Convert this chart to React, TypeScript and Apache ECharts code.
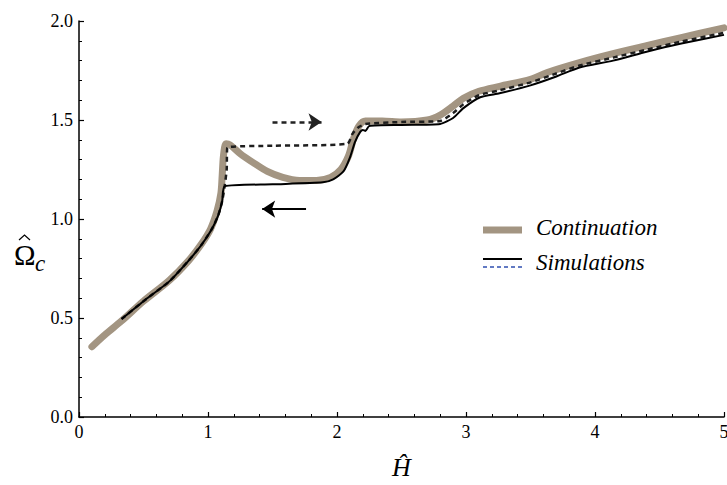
import React, { useEffect, useRef } from "react";
import * as echarts from "echarts";

// Continuation branch of the critical frequency vs. dimensionless field
const continuation: [number, number][] = [
  [0.1, 0.355], [0.2, 0.415], [0.33, 0.485], [0.5, 0.585], [0.7, 0.69],
  [0.85, 0.79], [0.95, 0.875], [1.02, 0.95], [1.07, 1.04], [1.1, 1.13],
  [1.11, 1.22], [1.12, 1.32], [1.14, 1.38], [1.17, 1.375], [1.25, 1.33],
  [1.35, 1.285], [1.46, 1.24], [1.58, 1.21], [1.71, 1.195], [1.84, 1.195],
  [1.95, 1.21], [2.03, 1.25], [2.09, 1.32], [2.13, 1.41], [2.17, 1.47],
  [2.22, 1.495], [2.35, 1.495], [2.5, 1.49], [2.7, 1.5], [2.8, 1.525],
  [2.9, 1.57], [2.98, 1.61], [3.1, 1.645], [3.26, 1.67], [3.5, 1.705],
  [3.63, 1.74], [3.88, 1.79], [4.14, 1.835], [4.4, 1.875], [4.66, 1.915],
  [5.0, 1.965],
];

// Simulation, decreasing field sweep (solid)
const simDown: [number, number][] = [
  [0.33, 0.495], [0.5, 0.585], [0.7, 0.685], [0.85, 0.79], [0.95, 0.87],
  [1.03, 0.95], [1.08, 1.02], [1.11, 1.09], [1.13, 1.165], [1.5, 1.175],
  [1.89, 1.185], [1.97, 1.2], [2.05, 1.24], [2.1, 1.31], [2.14, 1.39],
  [2.18, 1.44], [2.2, 1.45], [2.22, 1.445], [2.25, 1.47], [2.5, 1.475],
  [2.8, 1.48], [2.9, 1.51], [2.98, 1.56], [3.11, 1.615], [3.26, 1.635],
  [3.5, 1.675], [3.7, 1.72], [3.88, 1.765], [4.14, 1.8], [4.4, 1.845],
  [4.66, 1.885], [5.0, 1.93],
];

// Simulation, increasing field sweep (dashed)
const simUp: [number, number][] = [
  [0.33, 0.495], [0.5, 0.585], [0.7, 0.685], [0.85, 0.79], [0.95, 0.87],
  [1.03, 0.95], [1.08, 1.02], [1.11, 1.09], [1.13, 1.17], [1.145, 1.25],
  [1.15, 1.36], [1.5, 1.37], [2.08, 1.38], [2.12, 1.43], [2.16, 1.46],
  [2.22, 1.48], [2.5, 1.49], [2.8, 1.495], [2.9, 1.535], [2.98, 1.58],
  [3.1, 1.625], [3.26, 1.65], [3.5, 1.69], [3.7, 1.735], [3.88, 1.775],
  [4.14, 1.815], [4.4, 1.855], [4.66, 1.895], [5.0, 1.94],
];

// Sweep direction arrows: [x start, x end, y]
const arrowUp: [number, number, number] = [1.5, 1.88, 1.49];
const arrowDown: [number, number, number] = [1.76, 1.42, 1.05];

const SERIF = "Liberation Serif";
const BROWN = "#a39582";

export default function App() {
  const ref = useRef<HTMLDivElement>(null);

  useEffect(() => {
    if (!ref.current) return;
    const chart = echarts.init(ref.current, null, { renderer: "svg" });

    const axisCommon = {
      axisLine: { show: true, onZero: false, lineStyle: { color: "#000", width: 1.5 } },
      axisTick: { show: true, inside: true, length: 5, lineStyle: { color: "#000", width: 1.2 } },
      minorTick: { show: true, splitNumber: 5, length: 3, lineStyle: { color: "#000", width: 1 } },
      splitLine: { show: false },
      minorSplitLine: { show: false },
      axisLabel: { color: "#000", fontFamily: SERIF, fontSize: 18 },
    };

    chart.setOption({
      animation: false,
      backgroundColor: "#fff",
      textStyle: { fontFamily: SERIF },
      grid: {
        left: 79,
        right: 3,
        top: 21,
        bottom: 68,
        containLabel: false,
        outerBoundsMode: "none",
      },
      xAxis: {
        type: "value",
        min: 0,
        max: 5,
        interval: 1,
        ...axisCommon,
        axisLabel: { ...axisCommon.axisLabel, margin: 6 },
        name: "Ĥ",
        nameLocation: "middle",
        nameGap: 37,
        nameTextStyle: { fontFamily: SERIF, fontStyle: "italic", fontSize: 26, color: "#000" },
      },
      yAxis: {
        type: "value",
        min: 0,
        max: 2,
        interval: 0.5,
        ...axisCommon,
        axisLabel: {
          ...axisCommon.axisLabel,
          margin: 6,
          formatter: (v: number) => v.toFixed(1),
        },
      },
      graphic: [
        {
          type: "text",
          left: 14,
          top: 240,
          style: { text: "Ω", fontFamily: SERIF, fontSize: 29, fill: "#000" },
        },
        {
          type: "polyline",
          shape: { points: [[19, 240], [24.5, 235], [30, 240]] },
          style: { stroke: "#000", lineWidth: 1.2, fill: "none" },
        },
        {
          type: "text",
          left: 35,
          top: 252,
          style: { text: "c", fontFamily: SERIF, fontStyle: "italic", fontSize: 23, fill: "#000" },
        },
        {
          type: "line",
          shape: { x1: 483, y1: 230, x2: 522, y2: 230 },
          style: { stroke: BROWN, lineWidth: 7 },
        },
        {
          type: "text",
          left: 536,
          top: 216,
          style: { text: "Continuation", fontFamily: SERIF, fontStyle: "italic", fontSize: 23, fill: "#000" },
        },
        {
          type: "line",
          shape: { x1: 483, y1: 259, x2: 522, y2: 259 },
          style: { stroke: "#000", lineWidth: 2 },
        },
        {
          type: "line",
          shape: { x1: 483, y1: 267, x2: 522, y2: 267 },
          style: { stroke: "#2f4fb0", lineWidth: 1.5, lineDash: [4, 3] },
        },
        {
          type: "text",
          left: 536,
          top: 251,
          style: { text: "Simulations", fontFamily: SERIF, fontStyle: "italic", fontSize: 23, fill: "#000" },
        },
      ],
      series: [
        {
          name: "Continuation",
          type: "line",
          data: continuation,
          smooth: 0.3,
          showSymbol: false,
          lineStyle: { color: BROWN, width: 7, cap: "round", join: "round" },
          z: 1,
        },
        {
          name: "Simulations (up)",
          type: "line",
          data: simUp,
          smooth: 0.2,
          showSymbol: false,
          lineStyle: { color: "#1e1e1e", width: 2.5, type: [5, 4] },
          z: 2,
        },
        {
          name: "Simulations (down)",
          type: "line",
          data: simDown,
          smooth: 0.2,
          showSymbol: false,
          lineStyle: { color: "#000", width: 2 },
          z: 3,
        },
        {
          name: "arrows",
          type: "line",
          data: [],
          markLine: {
            silent: true,
            symbol: ["none", "arrow"],
            symbolSize: 13,
            label: { show: false },
            emphasis: { disabled: true },
            data: [
              [
                { coord: [arrowUp[0], arrowUp[2]], lineStyle: { color: "#222", width: 2.5, type: [5, 4] } },
                { coord: [arrowUp[1], arrowUp[2]] },
              ],
              [
                { coord: [arrowDown[0], arrowDown[2]], lineStyle: { color: "#000", width: 2, type: "solid" } },
                { coord: [arrowDown[1], arrowDown[2]] },
              ],
            ],
          },
          z: 4,
        },
      ],
    });

    return () => chart.dispose();
  }, []);

  return <div ref={ref} style={{ width: 727, height: 485, position: "absolute", left: 0, top: 0 }} />;
}
